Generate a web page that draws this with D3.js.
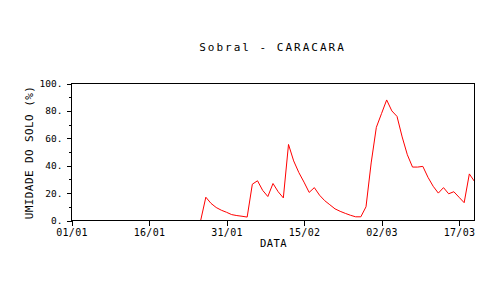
<!DOCTYPE html>
<html>
<head>
<meta charset="utf-8">
<script src="https://cdn.jsdelivr.net/npm/d3@7"></script>
<style>
  body { margin: 0; background: #fff; }
  svg { display: block; }
  text { font-family: "DejaVu Sans Mono", monospace; fill: #000; }
</style>
</head>
<body>
<svg id="chart" width="500" height="300"></svg>
<script>
// daily soil moisture (%) from 01/01
const startDate = new Date(2001, 0, 1);
const endDate = new Date(2001, 2, 20);
const values = [
  0, 0, 0, 0, 0, 0, 0, 0, 0, 0,
  0, 0, 0, 0, 0, 0, 0, 0, 0, 0,
  0, 0, 0, 0, 0, 0, 17, 12.5, 9.5, 7.5,
  6, 4.3, 3.6, 3.1, 2.5, 26.5, 29, 22, 17.5, 27,
  21, 16.5, 55.5, 43.5, 35, 28, 20.5, 24, 18.5, 14.5,
  11.5, 8.5, 6.7, 5.2, 3.8, 2.7, 2.7, 10, 42, 68,
  78, 88, 80, 76, 61, 48, 39, 39, 39.5, 31.5,
  25, 20, 24, 19.5, 21, 17, 13, 34, 28.5
];
const xTickDays = [0, 15, 30, 45, 60, 75];
const yTicks = [0, 20, 40, 60, 80, 100];
const yMinorTicks = [10, 30, 50, 70, 90];

const title = "Sobral - CARACARA";
const xLabel = "DATA";
const yLabel = "UMIDADE DO SOLO (%)";

const svg = d3.select("#chart");
const plotL = 71, plotR = 474, plotT = 83, plotB = 220;

// half-pixel offsets keep the 1px lines crisp
const x = d3.scaleTime().domain([startDate, endDate]).range([plotL + 0.5, plotR + 0.5]);
const y = d3.scaleLinear().domain([0, 100]).range([plotB + 0.5, plotT + 0.5]);

const points = values.map((v, i) => ({ date: d3.timeDay.offset(startDate, i), v }));

// data line first so the axes sit on top of the zero stretch
svg.append("path")
    .datum(points)
    .attr("fill", "none")
    .attr("stroke", "#ff0000")
    .attr("stroke-width", 1)
    .attr("d", d3.line().x(d => x(d.date)).y(d => y(d.v)));

// frame
svg.append("rect")
    .attr("x", plotL + 0.5).attr("y", plotT + 0.5)
    .attr("width", plotR - plotL).attr("height", plotB - plotT)
    .attr("fill", "none").attr("stroke", "#000").attr("stroke-width", 1)
    .attr("shape-rendering", "crispEdges");

// y axis
const yAxis = svg.append("g")
    .attr("transform", `translate(${plotL + 0.5},0)`)
    .call(d3.axisLeft(y).tickValues(yTicks).tickSize(5).tickPadding(4).tickFormat(d => d + "."));
yAxis.selectAll(".tick line").attr("shape-rendering", "crispEdges");
yAxis.selectAll("text").style("font-size", "9.5px").style("font-family", '"DejaVu Sans Mono", monospace');
yAxis.select(".domain").remove();

svg.append("g")
    .attr("transform", `translate(${plotL + 0.5},0)`)
    .call(d3.axisLeft(y).tickValues(yMinorTicks).tickSize(3).tickFormat(""))
    .call(g => g.select(".domain").remove())
    .selectAll("line").attr("shape-rendering", "crispEdges");

// x axis
const xAxis = svg.append("g")
    .attr("transform", `translate(0,${plotB + 0.5})`)
    .call(d3.axisBottom(x)
        .tickValues(xTickDays.map(d => d3.timeDay.offset(startDate, d)))
        .tickSize(5).tickPadding(3)
        .tickFormat(d3.timeFormat("%d/%m")));
xAxis.select(".domain").remove();
xAxis.selectAll(".tick line").attr("shape-rendering", "crispEdges");
xAxis.selectAll("text").style("font-size", "10px").style("letter-spacing", "0.3px")
    .style("font-family", '"DejaVu Sans Mono", monospace');

// titles
svg.append("text")
    .attr("x", 272.5).attr("y", 51)
    .attr("text-anchor", "middle")
    .style("font-size", "11px").style("letter-spacing", "2px")
    .text(title);

svg.append("text")
    .attr("x", 273.5).attr("y", 246.5)
    .attr("text-anchor", "middle")
    .style("font-size", "10.5px").style("letter-spacing", "0.4px")
    .text(xLabel);

svg.append("text")
    .attr("transform", "translate(33,152.5) rotate(-90)")
    .attr("text-anchor", "middle")
    .style("font-size", "11px").style("letter-spacing", "0.4px")
    .text(yLabel);
</script>
</body>
</html>
